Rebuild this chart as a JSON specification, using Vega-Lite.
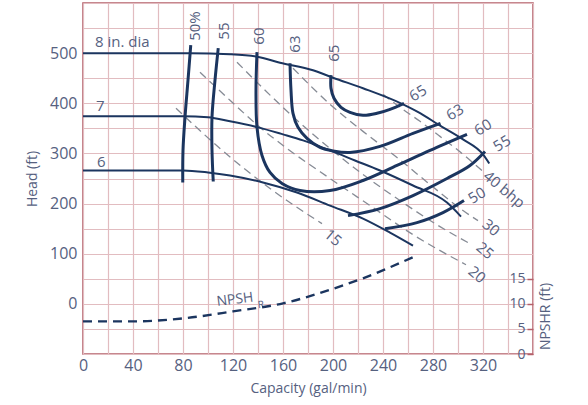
{
  "$schema": "https://vega.github.io/schema/vega-lite/v6.json",
  "width": 450,
  "height": 351,
  "autosize": {"type": "none"},
  "padding": {"left": 83, "top": 3, "right": 55, "bottom": 51},
  "background": "#ffffff",
  "config": {
    "view": {"stroke": "#b4606a", "strokeWidth": 1.6},
    "font": "Open Sans",
    "text": {"font": "Open Sans", "color": "#56617f"},
    "axis": {"labelColor": "#56617f", "titleColor": "#56617f", "labelFont": "Open Sans", "titleFont": "Open Sans", "titleFontWeight": "normal", "gridColor": "#e2bcc0", "gridOpacity": 1, "gridWidth": 1.2, "domain": false, "ticks": false, "labelFlush": false, "labelOverlap": false}
  },
  "datasets": {
    "heads": [
      {"c": "8", "i": 0, "q": 0, "h": 500}, {"c": "8", "i": 1, "q": 85.6, "h": 500}, {"c": "8", "i": 2, "q": 117.6, "h": 498}, {"c": "8", "i": 3, "q": 139.2, "h": 493}, {"c": "8", "i": 4, "q": 157.6, "h": 481}, {"c": "8", "i": 5, "q": 184, "h": 466}, {"c": "8", "i": 6, "q": 200, "h": 451}, {"c": "8", "i": 7, "q": 224, "h": 430}, {"c": "8", "i": 8, "q": 256, "h": 398}, {"c": "8", "i": 9, "q": 270, "h": 380}, {"c": "8", "i": 10, "q": 284, "h": 358}, {"c": "8", "i": 11, "q": 304, "h": 328}, {"c": "8", "i": 12, "q": 320, "h": 298}, {"c": "8", "i": 13, "q": 325, "h": 280},
      {"c": "7", "i": 0, "q": 0, "h": 374}, {"c": "7", "i": 1, "q": 80, "h": 374}, {"c": "7", "i": 2, "q": 100, "h": 372}, {"c": "7", "i": 3, "q": 117.6, "h": 364}, {"c": "7", "i": 4, "q": 140, "h": 352}, {"c": "7", "i": 5, "q": 160, "h": 338}, {"c": "7", "i": 6, "q": 176, "h": 326}, {"c": "7", "i": 7, "q": 197.6, "h": 306}, {"c": "7", "i": 8, "q": 217.6, "h": 286}, {"c": "7", "i": 9, "q": 237.6, "h": 266}, {"c": "7", "i": 10, "q": 264, "h": 236}, {"c": "7", "i": 11, "q": 291.2, "h": 202}, {"c": "7", "i": 12, "q": 302.4, "h": 174},
      {"c": "6", "i": 0, "q": 0, "h": 266}, {"c": "6", "i": 1, "q": 80, "h": 266}, {"c": "6", "i": 2, "q": 100, "h": 262}, {"c": "6", "i": 3, "q": 117.6, "h": 256}, {"c": "6", "i": 4, "q": 144, "h": 242}, {"c": "6", "i": 5, "q": 171.2, "h": 222}, {"c": "6", "i": 6, "q": 197.6, "h": 196}, {"c": "6", "i": 7, "q": 224, "h": 170}, {"c": "6", "i": 8, "q": 245.6, "h": 142}, {"c": "6", "i": 9, "q": 264, "h": 116}
    ],
    "eff": [
      {"c": "50a", "i": 0, "q": 86.2, "h": 516}, {"c": "50a", "i": 1, "q": 84, "h": 446}, {"c": "50a", "i": 2, "q": 81.6, "h": 372}, {"c": "50a", "i": 3, "q": 80, "h": 306}, {"c": "50a", "i": 4, "q": 79.8, "h": 242},
      {"c": "55a", "i": 0, "q": 108.2, "h": 510}, {"c": "55a", "i": 1, "q": 105.6, "h": 446}, {"c": "55a", "i": 2, "q": 103.2, "h": 372}, {"c": "55a", "i": 3, "q": 103.2, "h": 306}, {"c": "55a", "i": 4, "q": 104.2, "h": 244},
      {"c": "60", "i": 0, "q": 139.2, "h": 502}, {"c": "60", "i": 1, "q": 138.4, "h": 426}, {"c": "60", "i": 2, "q": 139.2, "h": 352}, {"c": "60", "i": 3, "q": 143.2, "h": 296}, {"c": "60", "i": 4, "q": 149.6, "h": 262}, {"c": "60", "i": 5, "q": 159.2, "h": 240}, {"c": "60", "i": 6, "q": 173.6, "h": 226}, {"c": "60", "i": 7, "q": 197.6, "h": 226}, {"c": "60", "i": 8, "q": 224, "h": 246}, {"c": "60", "i": 9, "q": 251.2, "h": 276}, {"c": "60", "i": 10, "q": 277.6, "h": 306}, {"c": "60", "i": 11, "q": 307.2, "h": 338},
      {"c": "63", "i": 0, "q": 165.6, "h": 480}, {"c": "63", "i": 1, "q": 166.4, "h": 426}, {"c": "63", "i": 2, "q": 168, "h": 380}, {"c": "63", "i": 3, "q": 172, "h": 352}, {"c": "63", "i": 4, "q": 179.2, "h": 330}, {"c": "63", "i": 5, "q": 189.6, "h": 312}, {"c": "63", "i": 6, "q": 200, "h": 305}, {"c": "63", "i": 7, "q": 213.6, "h": 302}, {"c": "63", "i": 8, "q": 237.6, "h": 314}, {"c": "63", "i": 9, "q": 264, "h": 340}, {"c": "63", "i": 10, "q": 286, "h": 360},
      {"c": "65", "i": 0, "q": 198.4, "h": 456}, {"c": "65", "i": 1, "q": 198.4, "h": 430}, {"c": "65", "i": 2, "q": 200.8, "h": 410}, {"c": "65", "i": 3, "q": 206.4, "h": 392}, {"c": "65", "i": 4, "q": 213.6, "h": 382}, {"c": "65", "i": 5, "q": 224, "h": 376}, {"c": "65", "i": 6, "q": 235.2, "h": 380}, {"c": "65", "i": 7, "q": 245.6, "h": 388}, {"c": "65", "i": 8, "q": 256.8, "h": 400},
      {"c": "55b", "i": 0, "q": 212, "h": 176}, {"c": "55b", "i": 1, "q": 237.6, "h": 190}, {"c": "55b", "i": 2, "q": 264, "h": 216}, {"c": "55b", "i": 3, "q": 291.2, "h": 250}, {"c": "55b", "i": 4, "q": 309.6, "h": 276}, {"c": "55b", "i": 5, "q": 321.6, "h": 304},
      {"c": "50b", "i": 0, "q": 241.6, "h": 150}, {"c": "50b", "i": 1, "q": 267.2, "h": 162}, {"c": "50b", "i": 2, "q": 288, "h": 182}, {"c": "50b", "i": 3, "q": 304.8, "h": 206}
    ],
    "bhp": [
      {"c": "15", "i": 0, "q": 74.4, "h": 390}, {"c": "15", "i": 1, "q": 109.6, "h": 310}, {"c": "15", "i": 2, "q": 149.6, "h": 230}, {"c": "15", "i": 3, "q": 191.2, "h": 160},
      {"c": "20", "i": 0, "q": 93.6, "h": 462}, {"c": "20", "i": 1, "q": 117.6, "h": 406}, {"c": "20", "i": 2, "q": 141.6, "h": 352}, {"c": "20", "i": 3, "q": 163.2, "h": 310}, {"c": "20", "i": 4, "q": 197.6, "h": 250}, {"c": "20", "i": 5, "q": 229.6, "h": 196}, {"c": "20", "i": 6, "q": 264, "h": 138}, {"c": "20", "i": 7, "q": 306.4, "h": 78},
      {"c": "25", "i": 0, "q": 123.2, "h": 482}, {"c": "25", "i": 1, "q": 144, "h": 430}, {"c": "25", "i": 2, "q": 171.2, "h": 366}, {"c": "25", "i": 3, "q": 197.6, "h": 310}, {"c": "25", "i": 4, "q": 224, "h": 258}, {"c": "25", "i": 5, "q": 253.6, "h": 206}, {"c": "25", "i": 6, "q": 285.6, "h": 154}, {"c": "25", "i": 7, "q": 309.6, "h": 120},
      {"c": "30", "i": 0, "q": 168, "h": 470}, {"c": "30", "i": 1, "q": 197.6, "h": 398}, {"c": "30", "i": 2, "q": 224, "h": 344}, {"c": "30", "i": 3, "q": 251.2, "h": 292}, {"c": "30", "i": 4, "q": 277.6, "h": 238}, {"c": "30", "i": 5, "q": 304, "h": 186}, {"c": "30", "i": 6, "q": 316, "h": 166},
      {"c": "40", "i": 0, "q": 240, "h": 418}, {"c": "40", "i": 1, "q": 253.6, "h": 392}, {"c": "40", "i": 2, "q": 269.6, "h": 364}, {"c": "40", "i": 3, "q": 285.6, "h": 334}, {"c": "40", "i": 4, "q": 303.2, "h": 300}, {"c": "40", "i": 5, "q": 320, "h": 264}
    ],
    "npsh": [
      {"q": 0, "n": 6.5}, {"q": 40, "n": 6.5}, {"q": 80, "n": 7.1}, {"q": 120, "n": 8.5}, {"q": 160, "n": 10.1}, {"q": 197.6, "n": 12.8}, {"q": 224, "n": 15.1}, {"q": 264, "n": 19.3}
    ],
    "labels": [
      {"t": "8 in. dia", "q": 9.6, "h": 522, "g": "d"},
      {"t": "7", "q": 10.4, "h": 394, "g": "d"},
      {"t": "6", "q": 11.2, "h": 282, "g": "d"},
      {"t": "50%", "q": 89.6, "h": 554, "g": "v"},
      {"t": "55", "q": 112.8, "h": 544, "g": "v"},
      {"t": "60", "q": 140.8, "h": 534, "g": "v"},
      {"t": "63", "q": 169.6, "h": 518, "g": "v"},
      {"t": "65", "q": 200.8, "h": 500, "g": "v"},
      {"t": "65", "q": 268, "h": 420, "g": "e"},
      {"t": "63", "q": 297.6, "h": 382, "g": "e"},
      {"t": "60", "q": 320, "h": 352, "g": "e"},
      {"t": "55", "q": 335.2, "h": 320, "g": "e"},
      {"t": "50", "q": 315.2, "h": 216, "g": "e"},
      {"t": "40 bhp", "q": 336.8, "h": 228, "g": "b"},
      {"t": "30", "q": 326.4, "h": 152, "g": "b"},
      {"t": "25", "q": 321.6, "h": 106, "g": "b"},
      {"t": "20", "q": 315.2, "h": 58, "g": "b"},
      {"t": "15", "q": 200, "h": 132, "g": "b"},
      {"t": "NPSH", "q": 121.6, "h": 8, "g": "n"},
      {"t": "R", "q": 142.4, "h": -2, "g": "r"}
    ]
  },
  "encoding": {
    "x": {"field": "q", "type": "quantitative", "scale": {"domain": [0, 360], "nice": false, "zero": false},
      "axis": {"values": [0, 20, 40, 60, 80, 100, 120, 140, 160, 180, 200, 220, 240, 260, 280, 300, 320, 340, 360], "labelExpr": "datum.value % 40 == 0 && datum.value <= 320 ? datum.label : ''", "labelFontSize": 16, "labelPadding": 3, "title": "Capacity (gal/min)", "titleFontSize": 14, "titlePadding": 8, "grid": true, "gridColor": "#e2bcc0", "gridWidth": 1.2}}
  },
  "layer": [
    {
      "encoding": {
        "y": {"field": "h", "type": "quantitative", "scale": {"domain": [-100, 600], "nice": false, "zero": false},
          "axis": {"orient": "left", "values": [-100, -50, 0, 50, 100, 150, 200, 250, 300, 350, 400, 450, 500, 550, 600], "labelExpr": "datum.value % 100 == 0 && datum.value >= 0 && datum.value <= 500 ? datum.label : ''", "labelFontSize": 16, "labelPadding": 6, "title": "Head (ft)", "titleFontSize": 14, "titlePadding": 10, "grid": true, "gridColor": "#e2bcc0", "gridWidth": 1.2}}
      },
      "layer": [
        {
          "data": {"name": "bhp"},
          "mark": {"type": "line", "interpolate": "monotone", "strokeDash": [8, 5], "strokeWidth": 1.3, "color": "#868b95"},
          "encoding": {"detail": {"field": "c"}, "order": {"field": "i"}}
        },
        {
          "data": {"name": "heads"},
          "mark": {"type": "line", "interpolate": "monotone", "strokeWidth": 2, "color": "#1b355f"},
          "encoding": {"detail": {"field": "c"}, "order": {"field": "i"}}
        },
        {
          "data": {"name": "eff"},
          "mark": {"type": "line", "interpolate": "catmull-rom", "strokeWidth": 3, "color": "#1b355f", "strokeCap": "butt"},
          "encoding": {"detail": {"field": "c"}, "order": {"field": "i"}}
        },
        {
          "data": {"name": "labels"},
          "transform": [{"filter": "datum.g == 'd'"}],
          "mark": {"type": "text", "align": "left", "baseline": "middle", "fontSize": 15, "color": "#56617f"},
          "encoding": {"text": {"field": "t"}}
        },
        {
          "data": {"name": "labels"},
          "transform": [{"filter": "datum.g == 'v'"}],
          "mark": {"type": "text", "align": "center", "baseline": "middle", "angle": 270, "fontSize": 15, "color": "#56617f"},
          "encoding": {"text": {"field": "t"}}
        },
        {
          "data": {"name": "labels"},
          "transform": [{"filter": "datum.g == 'e'"}],
          "mark": {"type": "text", "align": "center", "baseline": "middle", "angle": 328, "fontSize": 15, "color": "#56617f"},
          "encoding": {"text": {"field": "t"}}
        },
        {
          "data": {"name": "labels"},
          "transform": [{"filter": "datum.g == 'b'"}],
          "mark": {"type": "text", "align": "center", "baseline": "middle", "angle": 40, "fontSize": 15, "color": "#56617f"},
          "encoding": {"text": {"field": "t"}}
        },
        {
          "data": {"name": "labels"},
          "transform": [{"filter": "datum.g == 'n'"}],
          "mark": {"type": "text", "align": "center", "baseline": "middle", "angle": 353, "fontSize": 14, "color": "#56617f"},
          "encoding": {"text": {"field": "t"}}
        },
        {
          "data": {"name": "labels"},
          "transform": [{"filter": "datum.g == 'r'"}],
          "mark": {"type": "text", "align": "center", "baseline": "middle", "angle": 353, "fontSize": 10, "color": "#56617f"},
          "encoding": {"text": {"field": "t"}}
        }
      ]
    },
    {
      "data": {"name": "npsh"},
      "mark": {"type": "line", "interpolate": "monotone", "strokeDash": [9, 6], "strokeWidth": 2.4, "color": "#1b355f"},
      "encoding": {
        "y": {"field": "n", "type": "quantitative", "scale": {"domain": [0, 70], "nice": false, "zero": false},
          "axis": {"orient": "right", "values": [0, 5, 10, 15], "grid": false, "ticks": true, "tickSize": -6, "tickColor": "#b4606a", "tickWidth": 1.5, "labelPadding": -2, "labelAlign": "right", "labelBaseline": "middle", "labelFontSize": 14, "title": "NPSHR (ft)", "titleFontSize": 14, "titleAngle": 270, "titleX": 5, "titleY": 313, "titleAlign": "center", "titleBaseline": "top"}}
      }
    }
  ],
  "resolve": {"scale": {"y": "independent"}, "axis": {"y": "independent"}}
}
